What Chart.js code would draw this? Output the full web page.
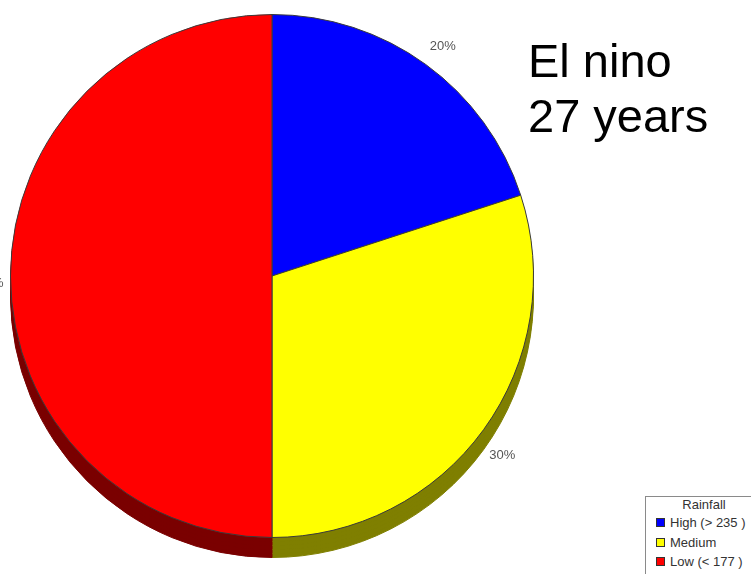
<!DOCTYPE html>
<html lang="en">
<head>
  <meta charset="UTF-8">
  <title>El nino rainfall</title>
  <script src="https://cdn.jsdelivr.net/npm/chart.js"></script>
  <style>
    body {
      margin: 0;
      width: 751px;
      height: 574px;
      overflow: hidden;
      background: #ffffff;
      font-family: 'Liberation Sans', Arial, sans-serif;
      position: relative;
    }
    .pie {
      position: absolute;
      left: -30px;
      top: -16px;
      width: 604px;
      height: 584px;
    }
    #title {
      position: absolute;
      left: 528px;
      top: 33px;
      font-size: 47px;
      line-height: 55px;
      color: #000;
      white-space: nowrap;
    }
    #legend {
      position: absolute;
      left: 645px;
      top: 496px;
      width: 116px;
      height: 90px;
      border: 1px solid #8a8a8a;
      font-size: 13px;
      color: #333;
    }
    #legend .head { text-align: center; height: 16px; line-height: 16px; }
    #legend .item { height: 19.5px; line-height: 19.5px; padding-left: 10px; white-space: nowrap; }
    #legend .sw {
      display: inline-block; width: 7px; height: 7px;
      border: 1px solid #333; margin-right: 5px; vertical-align: 0px;
    }
  </style>
</head>
<body>

<div id="shadows"></div>
<div class="pie"><canvas id="chart"></canvas></div>
<div id="title">El nino<br>27 years</div>
<div id="legend"></div>

<script>
  // data
  const categories = ['High (> 235 )', 'Medium', 'Low (< 177 )'];
  const shares = [20, 30, 50];
  const faceColors = ['#0000ff', '#ffff00', '#ff0000'];
  const sideColors = ['#00007a', '#7f7f00', '#7a0000'];
  const legendTitle = 'Rainfall';

  // 3D side: stacked copies of the pie, pushed down
  const depth = [20, 16, 12, 8, 4];
  depth.forEach(d => {
    const box = document.createElement('div');
    box.className = 'pie';
    box.style.top = (-16 + d) + 'px';
    const cv = document.createElement('canvas');
    box.appendChild(cv);
    document.getElementById('shadows').appendChild(box);
    new Chart(cv.getContext('2d'), {
      type: 'pie',
      data: {
        labels: categories,
        datasets: [{ data: shares, backgroundColor: sideColors, borderColor: sideColors, borderWidth: 1 }]
      },
      options: {
        responsive: true, maintainAspectRatio: false, animation: false,
        layout: { padding: 30 },
        plugins: { legend: { display: false }, tooltip: { enabled: false } }
      }
    });
  });

  // percentage labels outside the slices (anchored on the side facing the pie)
  const outsideLabels = {
    id: 'outsideLabels',
    afterDatasetsDraw(chart) {
      const c = chart.ctx;
      const meta = chart.getDatasetMeta(0);
      c.save();
      c.font = '13px "Liberation Sans", Arial, sans-serif';
      c.fillStyle = '#555';
      c.textBaseline = 'middle';
      meta.data.forEach((arc, i) => {
        const p = arc.getProps(['x', 'y', 'startAngle', 'endAngle', 'outerRadius'], true);
        const mid = (p.startAngle + p.endAngle) / 2;
        const cos = Math.cos(mid), sin = Math.sin(mid);
        c.textAlign = cos >= 0 ? 'left' : 'right';
        const tx = p.x + cos * (p.outerRadius + 7);
        const ty = p.y + 7 + sin * (p.outerRadius + 31);
        c.fillText(shares[i] + '%', tx, ty);
      });
      c.restore();
    }
  };

  const ctx = document.getElementById('chart').getContext('2d');
  new Chart(ctx, {
    type: 'pie',
    data: {
      labels: categories,
      datasets: [{
        data: shares,
        backgroundColor: faceColors,
        borderColor: '#3a3a3a',
        borderWidth: 1
      }]
    },
    options: {
      responsive: true,
      maintainAspectRatio: false,
      animation: false,
      layout: { padding: 30 },
      plugins: { legend: { display: false }, tooltip: { enabled: false } }
    },
    plugins: [outsideLabels]
  });

  // legend box
  const lg = document.getElementById('legend');
  lg.innerHTML = '<div class="head">' + legendTitle + '</div>' +
    categories.map((c, i) =>
      '<div class="item"><span class="sw" style="background:' + faceColors[i] + '"></span>' + c + '</div>'
    ).join('');
</script>
</body>
</html>
